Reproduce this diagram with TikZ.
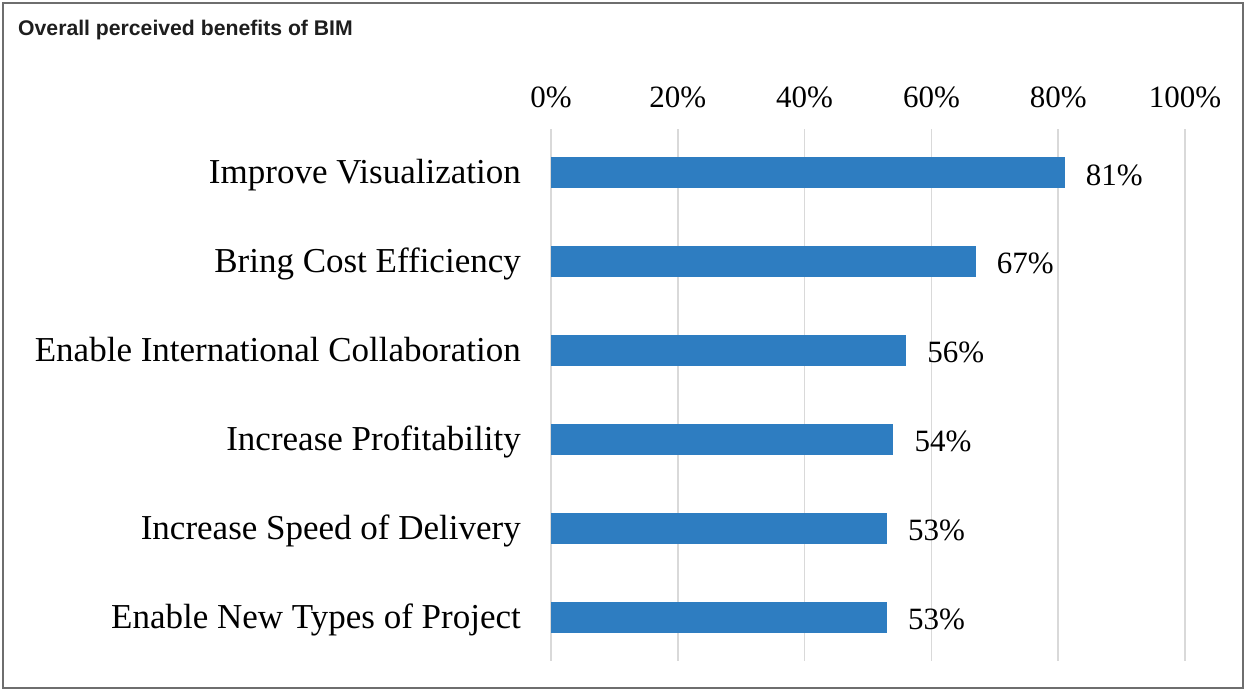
\documentclass[tikz,border=0pt]{standalone}
\usepackage{fontspec}
\setmainfont{Liberation Serif}
\newfontfamily\titlefont{Liberation Sans}
\definecolor{barblue}{RGB}{46,125,193}
\definecolor{gridgray}{RGB}{217,217,217}
\definecolor{framegray}{RGB}{110,110,110}
\definecolor{titlegray}{RGB}{30,30,30}
\begin{document}
\begin{tikzpicture}[x=1pt,y=-1pt,
  cat/.style={anchor=base east,inner sep=0pt,font=\fontsize{35}{35}\selectfont},
  val/.style={anchor=base west,inner sep=0pt,font=\fontsize{31}{31}\selectfont},
  tick/.style={anchor=base,inner sep=0pt,font=\fontsize{31}{31}\selectfont},
  grid/.style={draw=gridgray,line width=1.6pt},
  bar/.style={fill=barblue,draw=none}]
\useasboundingbox (0,0) rectangle (1247,691);
\fill[white] (0,0) rectangle (1247,691);
\draw[framegray,line width=2pt] (2.5,2.5) rectangle (1243,688);
\node[anchor=base west,inner sep=0pt,text=titlegray,font=\titlefont\bfseries\fontsize{21.2}{21.2}\selectfont] (title) at (18,35) {Overall perceived benefits of BIM};
% grid and ticks
\foreach \p/\t in {0/0\%,20/20\%,40/40\%,60/60\%,80/80\%,100/100\%}{
  \draw[grid] ({551+6.34*\p},129) -- ({551+6.34*\p},661);
  \node[tick] (t\p) at ({551+6.34*\p},107) {\t};
}
% bars
\foreach \i/\y/\v/\c in {1/172.5/81/Improve Visualization,2/261/67/Bring Cost Efficiency,3/350/56/Enable International Collaboration,4/439/54/Increase Profitability,5/528/53/Increase Speed of Delivery,6/617/53/Enable New Types of Project}{
  \fill[bar] (551,\y-15.5) rectangle ({551+6.34*\v},\y+15.5);
  \node[cat] (c\i) at (521,\y+11) {\c};
  \node[val] (v\i) at ({551+6.34*\v+21},\y+12.5) {\v\%};
}
\end{tikzpicture}
\end{document}
